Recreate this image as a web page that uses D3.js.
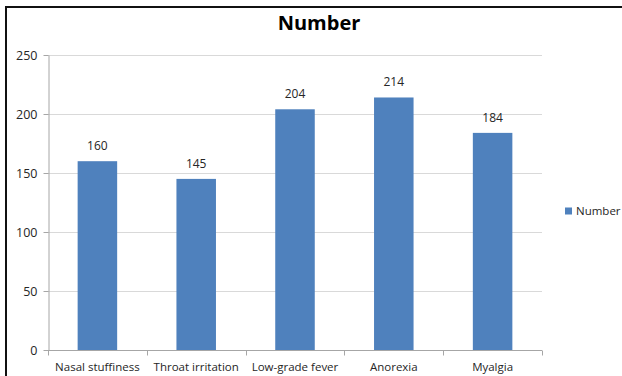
<!DOCTYPE html>
<html>
<head>
<meta charset="utf-8">
<script src="https://cdn.jsdelivr.net/npm/d3@7"></script>
<style>
  html, body { margin: 0; padding: 0; background: #fff; }
  svg { display: block; }
  text { font-family: "Open Sans", Lato, sans-serif; fill: #262626; }
</style>
</head>
<body>
<svg id="chart" width="622" height="376"></svg>
<script>
const categories = ["Nasal stuffiness", "Throat irritation", "Low-grade fever", "Anorexia", "Myalgia"];
const values = [160, 145, 204, 214, 184];
const yTicks = [0, 50, 100, 150, 200, 250];
const seriesName = "Number";

const svg = d3.select("#chart");
const W = 622, H = 376;
const plot = { left: 48, right: 542, top: 55, bottom: 350 };

// frame lines along the top and left edges
svg.append("line").attr("x1", 5).attr("x2", W).attr("y1", 7).attr("y2", 7)
  .attr("stroke", "#111").attr("stroke-width", 2);
svg.append("line").attr("x1", 6).attr("x2", 6).attr("y1", 6).attr("y2", H)
  .attr("stroke", "#111").attr("stroke-width", 2);

const x = d3.scaleBand().domain(categories).range([plot.left, plot.right]).paddingInner(0.6).paddingOuter(0.3);
const xb = d3.scaleBand().domain(categories).range([plot.left, plot.right]);
const y = d3.scaleLinear().domain([0, 250]).range([plot.bottom, plot.top]);

// horizontal gridlines
svg.append("g").selectAll("line").data(yTicks.filter(t => t > 0)).join("line")
  .attr("x1", plot.left).attr("x2", plot.right)
  .attr("y1", d => Math.round(y(d)) + 0.5).attr("y2", d => Math.round(y(d)) + 0.5)
  .attr("stroke", "#d9d9d9").attr("stroke-width", 1);

// y axis
const yAxis = svg.append("g").attr("transform", `translate(${plot.left + 0.5},0)`)
  .call(d3.axisLeft(y).tickValues(yTicks).tickSize(5).tickPadding(6).tickSizeOuter(0));
yAxis.select(".domain").attr("stroke", "#a6a6a6");
yAxis.selectAll(".tick line").attr("stroke", "#a6a6a6");
yAxis.selectAll(".tick text").attr("font-size", 12.5).attr("fill", "#262626")
  .style("font-family", "'Open Sans', sans-serif");

// x axis with boundary tick marks
const xg = svg.append("g").attr("transform", `translate(0,${plot.bottom + 0.5})`);
xg.append("line").attr("x1", plot.left).attr("x2", plot.right).attr("stroke", "#a6a6a6");
const bounds = categories.map(c => xb(c) + xb.bandwidth()).concat([plot.left]);
xg.selectAll("line.tk").data(bounds).join("line").attr("class", "tk")
  .attr("x1", d => Math.round(d) + 0.5).attr("x2", d => Math.round(d) + 0.5)
  .attr("y1", 0).attr("y2", 5).attr("stroke", "#a6a6a6");
xg.selectAll("text").data(categories).join("text")
  .attr("x", d => xb(d) + xb.bandwidth() / 2).attr("y", 20)
  .attr("text-anchor", "middle").attr("font-size", 11.5).text(d => d);

// bars
svg.append("g").selectAll("rect").data(values).join("rect")
  .attr("x", (d, i) => x(categories[i]))
  .attr("width", x.bandwidth())
  .attr("y", d => y(d))
  .attr("height", d => y(0) - y(d))
  .attr("fill", "#4f81bd");

// value labels
svg.append("g").selectAll("text").data(values).join("text")
  .attr("x", (d, i) => x(categories[i]) + x.bandwidth() / 2)
  .attr("y", d => y(d) - 11)
  .attr("text-anchor", "middle").attr("font-size", 12).text(d => d);

// title
svg.append("text").attr("x", 319).attr("y", 30).attr("text-anchor", "middle")
  .attr("font-size", 20).attr("font-weight", "bold").style("fill", "#000")
  .text(seriesName);

// legend
const lg = svg.append("g").attr("transform", "translate(565,211)");
lg.append("rect").attr("x", 0).attr("y", -3.5).attr("width", 7).attr("height", 7).attr("fill", "#4f81bd");
lg.append("text").attr("x", 11).attr("y", 4).attr("font-size", 11.5).text(seriesName);
</script>
</body>
</html>
